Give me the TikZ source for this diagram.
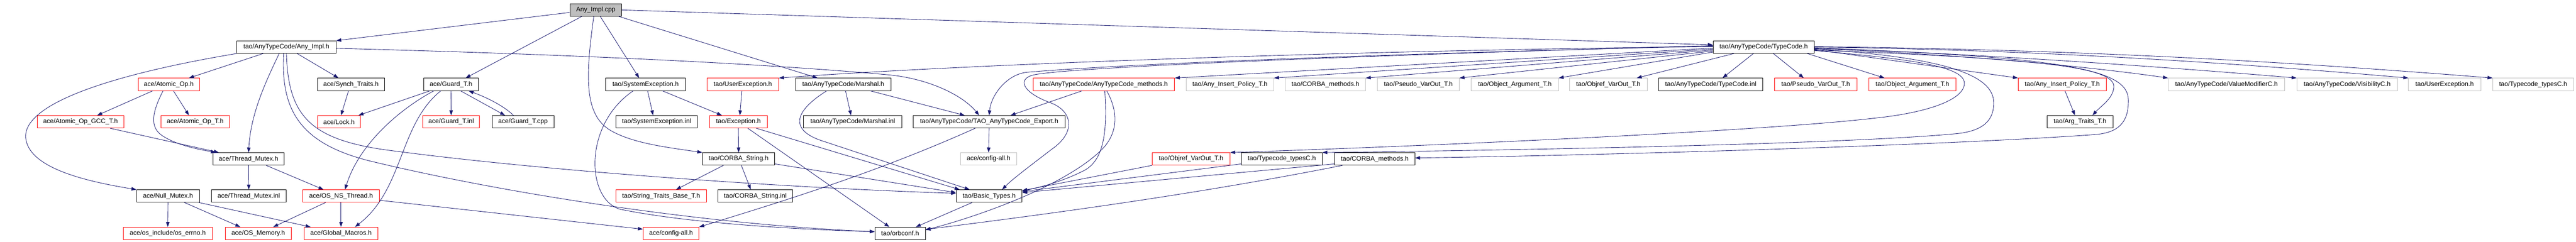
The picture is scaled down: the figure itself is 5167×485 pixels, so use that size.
\documentclass[tikz,border=0pt]{standalone}
\usepackage{fontspec}
\setmainfont{Liberation Sans}
\usetikzlibrary{arrows.meta}
\definecolor{edgec}{HTML}{191970}
\definecolor{grayb}{HTML}{BFBFBF}
\tikzset{
  nbase/.style={rectangle, draw, line width=0.9pt, inner sep=0pt, minimum height=25pt,
    font=\fontsize{13pt}{15pt}\selectfont, anchor=center},
  nb/.style={nbase, draw=black},
  nr/.style={nbase, draw=red},
  ng/.style={nbase, draw=grayb},
  nc/.style={nbase, draw=black, fill=grayb},
  e/.style={draw=edgec, line width=0.9pt, -{Triangle[length=10pt,width=7pt]}}
}
\begin{document}
\begin{tikzpicture}[x=1pt,y=-1pt]
\useasboundingbox (0,0) rectangle (5167,485);
% row 0
\node[nc, minimum width=104] (cpp) at (1195,20) {Any\_Impl.cpp};
% row 1
\node[nb, minimum width=199] (impl) at (574.5,94.5) {tao/AnyTypeCode/Any\_Impl.h};
\node[nb, minimum width=203] (tch) at (3537.5,94.5) {tao/AnyTypeCode/TypeCode.h};
% row 2
\node[nr, minimum width=123] (atomic) at (338.5,169.5) {ace/Atomic\_Op.h};
\node[nb, minimum width=134] (synch) at (704,169.5) {ace/Synch\_Traits.h};
\node[nb, minimum width=109] (guardh) at (904.5,169.5) {ace/Guard\_T.h};
\node[nb, minimum width=160] (sysex) at (1295,169.5) {tao/SystemException.h};
\node[nr, minimum width=144] (userexr) at (1490,169.5) {tao/UserException.h};
\node[nb, minimum width=191] (marshal) at (1691.5,169.5) {tao/AnyTypeCode/Marshal.h};
\node[nr, minimum width=284] (methods) at (2214,169.5) {tao/AnyTypeCode/AnyTypeCode\_methods.h};
\node[ng, minimum width=176] (insertg) at (2467,169.5) {tao/Any\_Insert\_Policy\_T.h};
\node[ng, minimum width=161] (corbag) at (2658.5,169.5) {tao/CORBA\_methods.h};
\node[ng, minimum width=164] (pseudog) at (2845,169.5) {tao/Pseudo\_VarOut\_T.h};
\node[ng, minimum width=175] (objargg) at (3038.5,169.5) {tao/Object\_Argument\_T.h};
\node[ng, minimum width=156] (objrefg) at (3226,169.5) {tao/Objref\_VarOut\_T.h};
\node[nb, minimum width=209] (tcinl) at (3431.5,169.5) {tao/AnyTypeCode/TypeCode.inl};
\node[nr, minimum width=166] (pseudor) at (3642,169.5) {tao/Pseudo\_VarOut\_T.h};
\node[nr, minimum width=174] (objargr) at (3836,169.5) {tao/Object\_Argument\_T.h};
\node[nr, minimum width=177] (insertr) at (4136.5,169.5) {tao/Any\_Insert\_Policy\_T.h};
\node[ng, minimum width=234] (valmod) at (4466,169.5) {tao/AnyTypeCode/ValueModifierC.h};
\node[ng, minimum width=202] (visib) at (4708,169.5) {tao/AnyTypeCode/VisibilityC.h};
\node[ng, minimum width=145] (userexg) at (4903.5,169.5) {tao/UserException.h};
\node[ng, minimum width=162] (typesg) at (5081,169.5) {tao/Typecode\_typesC.h};
% row 3
\node[nr, minimum width=173] (gcc) at (161.5,244.5) {ace/Atomic\_Op\_GCC\_T.h};
\node[nr, minimum width=137] (atomict) at (391.5,244.5) {ace/Atomic\_Op\_T.h};
\node[nr, minimum width=86] (lock) at (680,244.5) {ace/Lock.h};
\node[nr, minimum width=114] (guardinl) at (905,244.5) {ace/Guard\_T.inl};
\node[nb, minimum width=124] (guardcpp) at (1049,244.5) {ace/Guard\_T.cpp};
\node[nb, minimum width=164] (sysexinl) at (1317,244.5) {tao/SystemException.inl};
\node[nr, minimum width=116] (exc) at (1481,244.5) {tao/Exception.h};
\node[nb, minimum width=197] (marshalinl) at (1710.5,244.5) {tao/AnyTypeCode/Marshal.inl};
\node[nb, minimum width=304] (export) at (1984,244.5) {tao/AnyTypeCode/TAO\_AnyTypeCode\_Export.h};
\node[nb, minimum width=132] (argtraits) at (4172,244.5) {tao/Arg\_Traits\_T.h};
% row 4
\node[nb, minimum width=143] (tmutex) at (498.5,319) {ace/Thread\_Mutex.h};
\node[nb, minimum width=145] (cstr) at (1481.5,319) {tao/CORBA\_String.h};
\node[ng, minimum width=112] (configg) at (1983,319) {ace/config-all.h};
\node[nr, minimum width=156] (objrefr) at (2389,319) {tao/Objref\_VarOut\_T.h};
\node[nb, minimum width=162] (typesb) at (2571,319) {tao/Typecode\_typesC.h};
\node[nb, minimum width=161] (corbab) at (2757.5,319) {tao/CORBA\_methods.h};
% row 5
\node[nb, minimum width=126] (nullm) at (337,393.5) {ace/Null\_Mutex.h};
\node[nb, minimum width=150] (tminl) at (499,393.5) {ace/Thread\_Mutex.inl};
\node[nr, minimum width=154] (osns) at (684,393.5) {ace/OS\_NS\_Thread.h};
\node[nr, minimum width=182] (strtraits) at (1326,393.5) {tao/String\_Traits\_Base\_T.h};
\node[nb, minimum width=150] (cstrinl) at (1515,393.5) {tao/CORBA\_String.inl};
\node[nb, minimum width=132] (basic) at (1984,393.5) {tao/Basic\_Types.h};
% row 6
\node[nr, minimum width=179] (errno) at (336.5,468.5) {ace/os\_include/os\_errno.h};
\node[nr, minimum width=132] (osmem) at (518,468.5) {ace/OS\_Memory.h};
\node[nr, minimum width=148] (gmacros) at (684,468.5) {ace/Global\_Macros.h};
\node[nr, minimum width=112] (configr) at (1346,468.5) {ace/config-all.h};
\node[nb, minimum width=101] (orbconf) at (1805.5,468.5) {tao/orbconf.h};

% ---- edges from Any_Impl.cpp
\draw[e] ([yshift=-5pt]cpp.west) -- (impl.north east);
\draw[e] ([xshift=-28pt]cpp.south) -- ([xshift=29.5pt]guardh.north);
\draw[e] ([xshift=9pt]cpp.south) -- ([xshift=-13pt]sysex.north);
\draw[e] ([xshift=46pt]cpp.south) -- ([xshift=-51.5pt]marshal.north);
\draw[e] (cpp.east) -- ([yshift=4.5pt]tch.west);
\draw[e] ([xshift=-4pt]cpp.south) .. controls (1175,150) and (1170,230) .. (1225,262) .. controls (1270,288) and (1340,296) .. (cstr.north west);
% ---- edges from Any_Impl.h
\draw[e] ([xshift=-46.5pt]impl.south) -- ([xshift=40.5pt]atomic.north);
\draw[e] ([xshift=21.5pt]impl.south) -- ([xshift=-25pt]synch.north);
\draw[e] ([xshift=-14.5pt]impl.south) .. controls (530,170) and (503,230) .. (tmutex.north);
\draw[e] (impl.south west) .. controls (220,150) and (40,210) .. (52,280) .. controls (62,340) and (180,365) .. (nullm.north west);
\draw[e] ([xshift=-5.5pt]impl.south) .. controls (563,220) and (600,290) .. (750,325) .. controls (1000,385) and (1400,450) .. ([yshift=3.5pt]orbconf.west);
\draw[e] (impl.south) .. controls (578,230) and (620,278) .. (768,300) .. controls (1100,345) and (1600,378) .. ([yshift=5.5pt]basic.west);
\draw[e] ([yshift=-2.5pt]impl.east) .. controls (1100,108) and (1500,125) .. (1780,150) .. controls (1860,157) and (1930,190) .. ([xshift=-20pt]export.north);
% ---- ace side
\draw[e] ([xshift=-32.5pt]atomic.south) -- ([xshift=33.5pt]gcc.north);
\draw[e] ([xshift=9.5pt]atomic.south) -- ([xshift=-12.5pt]atomict.north);
\draw[e] ([xshift=-11.5pt]atomic.south) .. controls (305,225) and (300,255) .. (325,272) .. controls (355,292) and (400,300) .. ([xshift=-65.5pt]tmutex.north);
\draw[e] ([xshift=59.5pt]gcc.south) -- ([xshift=-59.5pt]tmutex.north);
\draw[e] ([xshift=-5pt]synch.south) -- ([xshift=4pt]lock.north);
\draw[e] ([xshift=-42.5pt]guardh.south) -- ([xshift=39pt]lock.north);
\draw[e] (guardh.south) -- (guardinl.north);
\draw[e] ([xshift=19.5pt]guardh.south) -- ([xshift=-36pt]guardcpp.north);
\draw[e] ([xshift=-19pt]guardcpp.north) .. controls (1010,212) and (975,195) .. ([xshift=35.5pt]guardh.south);
\draw[e] ([xshift=-34.5pt]guardh.south) .. controls (800,220) and (720,290) .. ([xshift=8pt]osns.north);
\draw[e] ([xshift=-20.5pt]guardh.south) .. controls (800,250) and (810,380) .. ([xshift=28pt]gmacros.north);
\draw[e] (tmutex.south) -- (tminl.north);
\draw[e] ([xshift=35.5pt]tmutex.south) -- ([xshift=-35pt]osns.north);
\draw[e] (nullm.south) -- (errno.north);
\draw[e] ([xshift=33pt]nullm.south) -- ([xshift=-36pt]osmem.north);
\draw[e] ([xshift=62pt]nullm.south) -- ([xshift=-61pt]gmacros.north);
\draw[e] ([xshift=-31pt]osns.south) -- ([xshift=30pt]osmem.north);
\draw[e] (osns.south) -- (gmacros.north);
\draw[e] ([yshift=-8.5pt]osns.east) -- ([yshift=8.5pt]configr.west);
% ---- exceptions, strings
\draw[e] ([xshift=4pt]sysex.south) -- ([xshift=-7pt]sysexinl.north);
\draw[e] ([xshift=34pt]sysex.south) -- ([xshift=-33pt]exc.north);
\draw[e] ([xshift=-25pt]sysex.south) .. controls (1170,250) and (1175,400) .. (1244,420) .. controls (1400,452) and (1650,462) .. ([yshift=3.5pt]orbconf.west);
\draw[e] ([xshift=-2pt]userexr.south) -- ([xshift=3pt]exc.north);
\draw[e] (exc.south) -- (cstr.north);
\draw[e] ([xshift=19pt]exc.south) -- ([xshift=-21.5pt]orbconf.north);
\draw[e] ([xshift=36pt]exc.south) -- ([xshift=-59pt]basic.north);
\draw[e] ([xshift=-30.5pt]cstr.south) -- ([xshift=30pt]strtraits.north);
\draw[e] ([xshift=5.5pt]cstr.south) -- ([xshift=-9pt]cstrinl.north);
\draw[e] ([yshift=-10pt]cstr.east) -- ([yshift=7pt]basic.west);
\draw[e] ([xshift=4.5pt]marshal.south) -- ([xshift=-3.5pt]marshalinl.north);
\draw[e] ([xshift=54.5pt]marshal.south) -- ([xshift=-49pt]export.north);
\draw[e] ([xshift=-33.5pt]marshal.south) .. controls (1590,225) and (1585,262) .. (1650,283) -- ([xshift=-39pt]basic.north);
\draw[e] (export.south) -- (configg.north);
\draw[e] ([xshift=-28pt]export.south) .. controls (1750,350) and (1550,410) .. (configr.north east);
% ---- TypeCode.h fan, left
\draw[e] ([yshift=-2pt]tch.west) -- (methods.north east);
\draw[e] ([yshift=-4pt]tch.west) -- (insertg.north east);
\draw[e] ([yshift=-6pt]tch.west) -- (corbag.north east);
\draw[e] ([yshift=-8pt]tch.west) -- (pseudog.north east);
\draw[e] ([yshift=-10pt]tch.west) -- (objargg.north east);
\draw[e] ([xshift=-59.5pt]tch.south) -- ([xshift=57pt]objrefg.north);
\draw[e] ([xshift=-20.5pt]tch.south) -- ([xshift=23.5pt]tcinl.north);
\draw[e] ([xshift=19.5pt]tch.south) -- ([xshift=-24pt]pseudor.north);
\draw[e] ([xshift=87.5pt]tch.south) -- ([xshift=-56pt]objargr.north);
\draw[e] ([yshift=1pt]tch.west) .. controls (2800,100) and (2000,125) .. (userexr.north east);
\draw[e] ([yshift=2pt]tch.west) .. controls (2900,105) and (2300,125) .. (2060,145) .. controls (2020,149) and (1988,190) .. (export.north);
\draw[e] ([yshift=3pt]tch.west) .. controls (2700,112) and (2150,135) .. (2075,150) .. controls (2040,157) and (2048,185) .. (2109,207) .. controls (2150,223) and (2160,265) .. (2109,300) .. controls (2070,330) and (2030,360) .. ([xshift=26pt]basic.north);
% ---- TypeCode.h fan, right
\draw[e] ([yshift=-5pt]tch.east) -- (insertr.north west);
\draw[e] ([yshift=1pt]tch.east) .. controls (4200,100) and (4600,125) .. (typesg.north west);
\draw[e] ([yshift=0pt]tch.east) .. controls (4100,100) and (4500,128) .. (userexg.north west);
\draw[e] ([yshift=-1.5pt]tch.east) .. controls (4000,110) and (4350,135) .. (visib.north west);
\draw[e] ([yshift=-3pt]tch.east) .. controls (3950,110) and (4200,135) .. (valmod.north west);
\draw[e] ([yshift=-6pt]tch.east) .. controls (4100,118) and (4243,135) .. (4240,175) .. controls (4238,198) and (4215,212) .. ([xshift=25pt]argtraits.north);
\draw[e] ([yshift=-7pt]tch.east) .. controls (3850,120) and (3945,135) .. (3940,170) .. controls (3935,205) and (3850,228) .. (3761,237) .. controls (3550,262) and (2900,292) .. (objrefr.north east);
\draw[e] ([yshift=-4pt]tch.east) .. controls (3900,115) and (4000,150) .. (3999,207) .. controls (3999,240) and (3980,262) .. (3927,268) .. controls (3700,290) and (3000,302) .. (typesb.north east);
\draw[e] ([yshift=-2pt]tch.east) .. controls (4150,115) and (4268,140) .. (4269,200) .. controls (4270,245) and (4250,266) .. (4203,270) .. controls (3900,292) and (3200,312) .. ([yshift=2pt]corbab.east);
% ---- methods and lower tao
\draw[e] ([xshift=-44pt]methods.south) -- ([xshift=43pt]export.north);
\draw[e] ([xshift=2pt]methods.south) .. controls (2222,270) and (2212,322) .. (2175,342) .. controls (2130,365) and (2085,376) .. ([yshift=10pt]basic.east);
\draw[e] ([xshift=6pt]methods.south) .. controls (2242,222) and (2246,268) .. (2205,305) .. controls (2130,375) and (1960,435) .. ([yshift=7pt]orbconf.east);
\draw[e] (objrefr.south west) -- ([yshift=11pt]basic.east);
\draw[e] ([yshift=-10pt]typesb.west) -- ([yshift=9pt]basic.east);
\draw[e] ([yshift=-10pt]corbab.west) -- ([yshift=7pt]basic.east);
\draw[e] ([xshift=-65pt]corbab.south) .. controls (2400,390) and (2100,430) .. ([yshift=8pt]orbconf.east);
\draw[e] ([xshift=-34pt]basic.south) -- ([xshift=31.5pt]orbconf.north);
\draw[e] ([xshift=5.5pt]insertr.south) -- ([xshift=-10pt]argtraits.north);
\end{tikzpicture}
\end{document}
